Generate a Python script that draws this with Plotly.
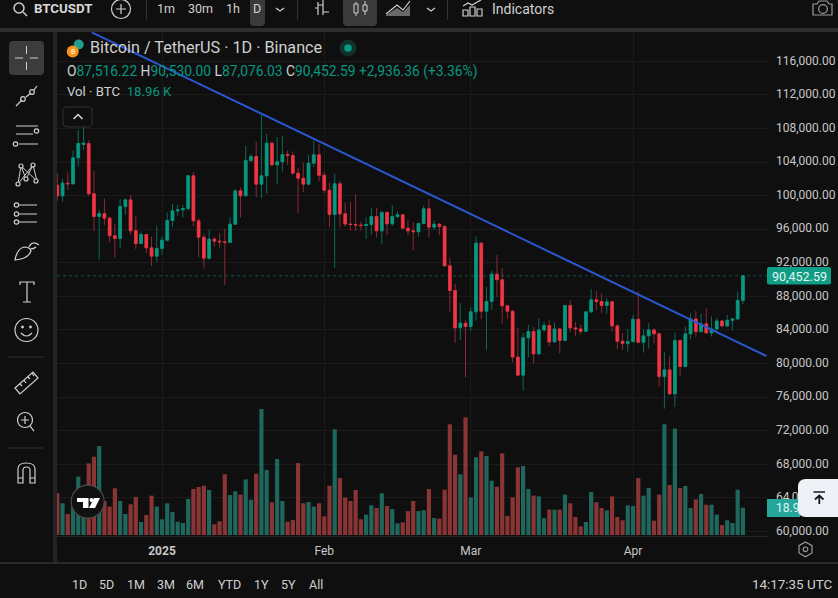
import re

import pandas as pd
import plotly.graph_objects as go

W, H = 838, 598
FONT = "Roboto"
BG = "#0f0f0f"
GREEN = "#089981"
RED = "#f23645"
TEXT = "#cfcfcf"

# daily BTCUSDT candles
open_ = [101250, 99980, 101490, 101410, 104500, 106100, 106210, 100240, 97520, 97870, 97320, 95210,
         94900, 98710, 99500, 95810, 94300, 95370, 93780, 92790, 93710, 94700, 97040, 98190,
         98310, 98470, 102360, 97000, 95050, 92550, 94820, 94580, 94500, 94430, 96600, 100570,
         99980, 104190, 104660, 101370, 102360, 106250, 103670, 104030, 104900, 104780, 102680, 102080,
         101370, 103870, 104860, 102440, 100650, 97760, 101410, 97840, 96610, 96560, 96500, 96450,
         96560, 97520, 95810, 97990, 96650, 97520, 97720, 96130, 95810, 95700, 96680, 98430,
         96250, 96600, 96330, 91640, 88700, 84260, 84810, 84420, 86160, 94340, 86240, 87400,
         90650, 89980, 86880, 86240, 80770, 78620, 83070, 83820, 81160, 84010, 84530, 82580,
         84130, 82740, 86910, 84250, 84130, 83850, 86160, 87590, 87390, 86910, 87350, 84490,
         82660, 82380, 82620, 85280, 82540, 83300, 84010, 83540, 78450, 79250, 76390, 82740,
         79650, 83540, 85320, 83810, 84730, 83650, 84130, 85080, 84490, 85160, 85320, 87516.22]
high = [102680, 101960, 102760, 105380, 107840, 108240, 106570, 102920, 98310, 99660, 97520, 96640,
        99580, 99660, 100060, 97600, 95730, 95450, 95130, 96400, 95130, 97990, 99030, 98910,
        98910, 102480, 102840, 97320, 95410, 95930, 95060, 95530, 96050, 97440, 100770, 100970,
        105930, 104980, 106450, 109620, 107360, 106450, 106970, 107120, 105380, 105260, 103270, 103950,
        104820, 106570, 106170, 102800, 101570, 102600, 101800, 99190, 99260, 100220, 96920, 97400,
        98470, 98550, 98190, 98150, 98870, 98110, 97760, 97120, 96840, 96800, 98790, 99580,
        97040, 96720, 96500, 92600, 89500, 87200, 85210, 86680, 95140, 94420, 89100, 91090,
        92910, 91360, 87000, 86400, 84220, 83700, 84620, 84340, 85400, 85000, 85200, 84890,
        84200, 86990, 87590, 84920, 84610, 86200, 88860, 88620, 88300, 87780, 87470, 84730,
        83620, 84090, 85800, 88580, 84090, 84810, 84210, 83700, 81350, 80920, 83690, 82900,
        84410, 86000, 86280, 85920, 86590, 85600, 85400, 85120, 85800, 85400, 88580, 90530]
low = [99420, 99300, 100690, 101300, 103470, 105460, 100000, 95810, 92360, 96520, 94420, 92630,
       93740, 97720, 95330, 93630, 94220, 93150, 91640, 92160, 92950, 94540, 96250, 97600,
       97400, 98230, 96330, 92630, 91320, 92360, 93940, 93820, 89380, 94400, 96560, 97400,
       99900, 104000, 99780, 99700, 100220, 103470, 101330, 102880, 103670, 102500, 97910, 100420,
       101290, 103390, 101690, 100300, 96250, 91440, 96250, 96330, 95810, 95810, 95850, 94820,
       95340, 95020, 94220, 95300, 96410, 97320, 96000, 95300, 93470, 95140, 96560, 95020,
       95930, 95300, 91560, 86200, 82430, 82830, 78380, 83900, 85130, 85290, 81640, 86400,
       87910, 84740, 85330, 80170, 78500, 76760, 80770, 80050, 81040, 83810, 82030, 82500,
       81230, 82700, 83730, 83300, 83500, 83800, 86000, 86390, 86000, 85920, 83810, 81710,
       81630, 81430, 82500, 82420, 81310, 81790, 82420, 77260, 74640, 76300, 74800, 78530,
       79570, 82900, 83140, 83690, 83600, 83220, 83890, 84330, 84410, 84010, 85200, 87076.03]
close = [99980, 101490, 101410, 104500, 106210, 106260, 100220, 97520, 97870, 97320, 95210, 94900,
         98710, 99500, 95810, 94300, 95370, 93780, 92790, 93710, 94700, 97040, 98190, 98310,
         98470, 102360, 97000, 95050, 92550, 94820, 94580, 94500, 94430, 96600, 100570, 99980,
         104190, 104660, 101370, 102360, 106250, 103670, 104030, 104900, 104780, 102680, 102080, 101370,
         103870, 104860, 102440, 100650, 97760, 101410, 97840, 96610, 96560, 96500, 96450, 96560,
         97520, 95810, 97990, 96650, 97520, 97720, 96130, 95810, 95700, 96680, 98430, 96250,
         96600, 96330, 91640, 88700, 84260, 84810, 84420, 86160, 94340, 86240, 87400, 90650,
         89980, 86880, 86240, 80770, 78620, 83070, 83820, 81160, 84010, 84530, 82580, 84130,
         82740, 86910, 84250, 84130, 83850, 86160, 87590, 87390, 86910, 87350, 84490, 82660,
         82380, 82620, 85280, 82540, 83300, 84010, 83540, 78450, 79250, 76390, 82740, 79650,
         83540, 85320, 83810, 84730, 83650, 84130, 85080, 84490, 85160, 85320, 87520, 90452.59]
# thousands of BTC
volume = [28.9, 22.0, 14.6, 19.7, 40.5, 23.1, 49.7, 54.3, 61.7, 23.6, 19.7, 32.4,
          23.6, 14.6, 21.3, 26.4, 9.0, 13.9, 27.3, 19.7, 10.9, 22.0, 16.0, 9.2,
          8.3, 25.0, 31.9, 33.3, 34.2, 31.2, 7.4, 9.5, 42.1, 27.7, 30.3, 28.0,
          38.6, 24.5, 42.5, 87.4, 45.1, 22.7, 52.7, 23.6, 9.2, 10.4, 49.9, 22.0,
          22.9, 19.7, 22.0, 12.9, 34.2, 73.3, 39.5, 26.1, 23.6, 31.2, 10.9, 14.1,
          20.6, 18.7, 28.9, 20.1, 18.0, 8.1, 8.8, 16.6, 23.6, 16.6, 17.1, 31.9,
          11.8, 11.3, 31.4, 76.8, 55.7, 42.1, 81.6, 26.1, 53.9, 58.0, 54.8, 37.7,
          33.5, 56.6, 13.2, 26.1, 46.9, 47.9, 31.9, 27.3, 26.8, 11.6, 17.6, 17.6,
          17.6, 28.0, 22.0, 12.5, 6.0, 9.0, 29.8, 22.7, 18.7, 17.1, 26.8, 12.5,
          10.2, 20.6, 20.1, 39.5, 27.3, 32.6, 9.9, 28.0, 76.8, 34.7, 73.8, 32.6,
          34.0, 18.7, 24.7, 28.4, 21.0, 21.0, 14.1, 6.9, 10.2, 8.3, 31.4, 18.96]
dates = pd.date_range("2024-12-12", periods=len(close))

trend_dates = ["2024-12-18 14:00", "2025-04-26 12:00"]
trend_prices = [119455, 80900]

price_ticks = list(range(60000, 116001, 4000))
month_ticks = ["2025-01-01", "2025-02-01", "2025-03-01", "2025-04-01"]
month_labels = ["<b>2025</b>", "Feb", "Mar", "Apr"]


def px(x):
    return x / W


def py(y):
    return 1 - y / H


def to_paper(d):
    # pixel path -> paper path, numbers alternate x, y
    out, is_x = [], True
    for tok in re.findall(r"[A-Za-z]|-?[\d.]+", d):
        if tok.isalpha():
            out.append(tok)
        else:
            out.append(f"{px(float(tok)) if is_x else py(float(tok)):.5f}")
            is_x = not is_x
    return " ".join(out)


shapes = []
notes = []


def stroke(d, color=TEXT, width=1.2, fill="rgba(0,0,0,0)"):
    shapes.append(dict(type="path", xref="paper", yref="paper", path=to_paper(d),
                       line=dict(color=color, width=width), fillcolor=fill, layer="above"))


def solid(d, fill):
    shapes.append(dict(type="path", xref="paper", yref="paper", path=to_paper(d),
                       line=dict(width=0), fillcolor=fill, layer="above"))


def rect(x0, y0, x1, y1, fill, r=0):
    if r == 0:
        solid(f"M{x0} {y0} L{x1} {y0} L{x1} {y1} L{x0} {y1} Z", fill)
    else:
        solid(f"M{x0+r} {y0} L{x1-r} {y0} Q{x1} {y0} {x1} {y0+r} L{x1} {y1-r} Q{x1} {y1} {x1-r} {y1} "
              f"L{x0+r} {y1} Q{x0} {y1} {x0} {y1-r} L{x0} {y0+r} Q{x0} {y0} {x0+r} {y0} Z", fill)


def circle(cx, cy, r, line=None, fill="rgba(0,0,0,0)", width=1.2):
    shapes.append(dict(type="circle", xref="paper", yref="paper",
                       x0=px(cx - r), x1=px(cx + r), y0=py(cy + r), y1=py(cy - r),
                       line=dict(color=line, width=width if line else 0), fillcolor=fill, layer="above"))


def txt(x, y, s, size=12, color=TEXT, anchor="left"):
    notes.append(dict(x=px(x), y=py(y), xref="paper", yref="paper", text=s, showarrow=False,
                      xanchor=anchor, yanchor="middle", align=anchor,
                      font=dict(family=FONT, size=size, color=color), borderpad=0))


# frame bands
rect(0, 28, W, 32, "#2d2d2d")
rect(53, 32, 57, 563, "#242424")
rect(0, 562, W, 564, "#2a2a2a")

# top toolbar
circle(19, 8, 5, TEXT, width=1.5)
stroke("M23 12 L27 16", TEXT, 1.5)
txt(33, 9, "<b>BTCUSDT</b>", 13.3, "#d8d8d8")
circle(121, 9, 9.5, TEXT)
stroke("M121 4 L121 14 M116 9 L126 9")
rect(146, 0, 147, 20, "#333333")
txt(166, 9, "1m", 12.5, anchor="center")
txt(200, 9, "30m", 12.5, anchor="center")
txt(233, 9, "1h", 12.5, anchor="center")
rect(250, -6, 265, 26, "#3a3a3a", 4)
txt(257, 9, "D", 12.5, anchor="center")
stroke("M276 8 L280 11 L284 8")
rect(297, 0, 298, 20, "#333333")
stroke("M318 2 L318 15 M318 5 L323 5 M323 0 L323 15 M323 12 L329 12 M315 8 L318 8")
rect(343, -6, 377, 26, "#3a3a3a", 4)
stroke("M356 2 L356 16 M365 1 L365 15", TEXT, 1)
stroke("M354 4 L358 4 L358 13 L354 13 Z M363 5 L367 5 L367 11 L363 11 Z", TEXT, 1, "#3a3a3a")
stroke("M386 14 L397 5 L403 10 L410 1", TEXT, 1.2)
solid("M386 15 L397 8 L403 12 L410 5 L410 16 L386 16 Z", "#6a6a6a")
stroke("M427 8 L431 11 L435 8")
rect(447, 0, 448, 20, "#333333")
stroke("M463 16 L463 10 L468 10 L468 16 Z M470 16 L470 7 L475 7 L475 16 Z M477 16 L477 9 L482 9 L482 16 Z")
stroke("M463 6 L468 3 L472 5 L481 0")
txt(491, 9, "Indicators", 14)
stroke("M814 4 L817 4 L819 1 L827 1 L829 4 L832 4 L832 15 L813 15 L813 4 Z", "#9a9a9a")
circle(823, 9, 4.3, "#9a9a9a")

# left toolbar
rect(9, 41, 44, 75, "#3c3c3c", 4)
stroke("M15 58 L23 58 M30 58 L38 58 M26.5 46 L26.5 54 M26.5 62 L26.5 70", "#d0d0d0", 1)
stroke("M16 106 L22 100 M26 97 L31 93 M34 90 L37 86")
circle(23, 99, 2.3, TEXT)
circle(32, 92, 2.3, TEXT)
stroke("M16 126 L38 126 M16 134 L33 134 M19 144 L38 144")
circle(36.5, 131, 2.2, TEXT)
circle(15.5, 144, 2.2, TEXT)
stroke("M18 184 L21 166 L26 179 L33 165 L37 181 L21 166 M18 184 L33 165", TEXT, 1)
for cx, cy in [(18, 184), (21, 166), (33, 165), (36, 181), (26, 179)]:
    circle(cx, cy, 2, TEXT, BG)
stroke("M19 205 L37 205 M19 214 L37 214 M19 222 L37 222")
for cx, cy in [(16.5, 205), (16.5, 214), (16.5, 222)]:
    circle(cx, cy, 2.2, TEXT)
stroke("M15 260 Q17 249 24 247 Q30 247 31 251 Q28 259 15 260 Z M29 247 Q32 240 39 245 M30 249 Q34 249 36 247")
stroke("M20 285 L20 282 L34 282 L34 285 M27 282 L27 302 M23 302 L31 302")
circle(26.5, 330, 11.5, TEXT)
circle(22.5, 327, 0.8, TEXT, TEXT)
circle(30.5, 327, 0.8, TEXT, TEXT)
stroke("M21 333 Q26.5 339 32 333")
rect(8, 356.5, 44, 357.5, "#303030")
stroke("M15 388 L33 372 L38 378 L20 394 Z M20 384 L22 386 M24 380 L26 383 M28 377 L30 379 M32 373 L34 376")
circle(25, 420, 7.5, TEXT)
stroke("M25 416 L25 424 M21 420 L29 420 M30 426 L34 431")
rect(8, 447.5, 44, 448.5, "#303030")
stroke("M18 483 L18 469 Q18 463 26 463 Q35 463 35 469 L35 483 L30 483 L30 470 Q30 467 26.5 467 Q23 467 23 470 "
       "L23 483 Z M18 478 L23 478 M30 478 L35 478")

# legend block
circle(78.7, 44.5, 5, None, "#1f9d8e")
circle(72.7, 51.5, 6, None, "#f7931a")
txt(72.7, 51.5, "B", 7, "#ffffff", "center")
txt(89, 48, "Bitcoin / TetherUS · 1D · Binance", 16.2)
circle(348, 48, 8.5, None, "#10302b")
circle(348, 48, 3.8, None, GREEN)
v = lambda s: f"<span style='color:{GREEN}'>{s}</span>"
txt(66, 71, f"O{v('87,516.22')} H{v('90,530.00')} L{v('87,076.03')} C{v('90,452.59')} {v('+2,936.36 (+3.36%)')}", 13.8)
txt(66, 91, f"Vol · BTC  {v('18.96 K')}", 13.2)
stroke("M67 107 L88 107 Q92 107 92 111 L92 123 Q92 127 88 127 L67 127 Q63 127 63 123 L63 111 Q63 107 67 107 Z",
       "#333333", 1, BG)
stroke("M73.5 119 L78 114.5 L82.5 119", "#d8d8d8", 1.5)

# TV logo
circle(87.7, 501.7, 16.5, "#4a4a4a", "#111111", 1.2)
solid("M77 498 L88.5 498 L88.5 508 L83 508 L83 502 L77 502 Z", "#ffffff")
circle(91.5, 500, 2, None, "#ffffff")
solid("M94 498 L100 498 L95 508 L89 508 Z", "#ffffff")

# price badges and the jump button
rect(767, 267, 831, 284.5, "#0f9d85", 2)
txt(799, 276, "90,452.59", 12.5, "#eaf6f3", "center")
rect(767, 499, 800, 517, "#26a69a")
txt(775, 508, "18.9", 12, "#dff5f1")
solid("M806 479 L838 479 L838 517 L806 517 Q798 517 798 509 L798 487 Q798 479 806 479 Z", "#eef1f6")
stroke("M813.5 492 L825 492", "#131722", 1.5)
stroke("M819.3 504 L819.3 495.5 M815 499.5 L819.3 495.5 L823.5 499.5", "#131722", 1.8)
stroke("M805.5 542 L812 545.7 L812 553 L805.5 556.7 L799 553 L799 545.7 Z", "#9a9a9a")
circle(805.5, 549.3, 2.3, "#9a9a9a")

# bottom range bar
for x, s in [(79, "1D"), (107, "5D"), (136, "1M"), (166, "3M"), (195, "6M"),
             (229, "YTD"), (261, "1Y"), (288, "5Y"), (316, "All")]:
    txt(x, 584, s, 12.5, anchor="center")
txt(833, 584, "14:17:35 UTC", 13.4, anchor="right")

# last price line
shapes.append(dict(type="line", xref="paper", yref="y", x0=px(57), x1=px(768), y0=close[-1], y1=close[-1],
                   line=dict(color="#0c5449", width=1, dash="dot"), layer="below"))

fig = go.Figure()
vol_colors = ["#1f665c" if c >= o else "#8a3535" for o, c in zip(open_, close)]
fig.add_trace(go.Bar(x=dates, y=volume, yaxis="y2", marker=dict(color=vol_colors, line_width=0),
                     width=0.8 * 86400000, hoverinfo="skip"))
# wicks first, then the bodies on top, the real chart has dimmer wicks
fig.add_trace(go.Candlestick(x=dates, open=open_, high=high, low=low, close=close,
                             increasing=dict(line=dict(color="#0c6a5b", width=1), fillcolor="#0c6a5b"),
                             decreasing=dict(line=dict(color="#8c2a33", width=1), fillcolor="#8c2a33"),
                             whiskerwidth=0, hoverinfo="skip"))
body_top = [max(o, c) for o, c in zip(open_, close)]
body_bottom = [min(o, c) for o, c in zip(open_, close)]
fig.add_trace(go.Candlestick(x=dates, open=open_, high=body_top, low=body_bottom, close=close,
                             increasing=dict(line=dict(color=GREEN, width=0.5), fillcolor=GREEN),
                             decreasing=dict(line=dict(color=RED, width=0.5), fillcolor=RED),
                             whiskerwidth=0, hoverinfo="skip"))
fig.add_trace(go.Scatter(x=trend_dates, y=trend_prices, mode="lines",
                         line=dict(color="#2a57cf", width=2), hoverinfo="skip"))

fig.update_layout(
    width=W, height=H, autosize=False, showlegend=False, dragmode=False,
    paper_bgcolor=BG, plot_bgcolor=BG, margin=dict(l=0, r=0, t=0, b=0),
    font=dict(family=FONT, size=12, color=TEXT), boxmode="overlay", boxgap=0.25,
    shapes=shapes, annotations=notes,
    xaxis=dict(domain=[px(57), px(768)], type="date", range=["2024-12-11 22:30", "2025-04-26 19:00"],
               rangeslider=dict(visible=False), tickmode="array", tickvals=month_ticks, ticktext=month_labels,
               showgrid=True, gridcolor="#1b1b1b", gridwidth=1, showline=True, linecolor="#262626", automargin=False,
               ticks="", ticklabelstandoff=4, tickfont=dict(size=12, color="#c8c8c8"), zeroline=False),
    yaxis=dict(domain=[py(536), py(30)], range=[59464, 119729], side="right", tickmode="array", automargin=False,
               tickvals=price_ticks, tickformat=",.2f", showgrid=True, gridcolor="#1b1b1b", gridwidth=1,
               ticks="", ticklabelstandoff=7, ticklabelshift=-1, tickfont=dict(size=12, color="#c8c8c8"),
               zeroline=False),
    yaxis2=dict(overlaying="y", range=[-0.7, 350.3], visible=False, showgrid=False, automargin=False),
)

# plotly's page keeps the default body margin, reset it and pin the plot size
page_fix = ("document.documentElement.style.overflow='hidden';"
            "document.body.style.cssText='margin:0;overflow:hidden;background:#0f0f0f';")
fig.write_html("out.html", post_script=page_fix, default_width=W, default_height=H,
               config={"displayModeBar": False, "responsive": False})
